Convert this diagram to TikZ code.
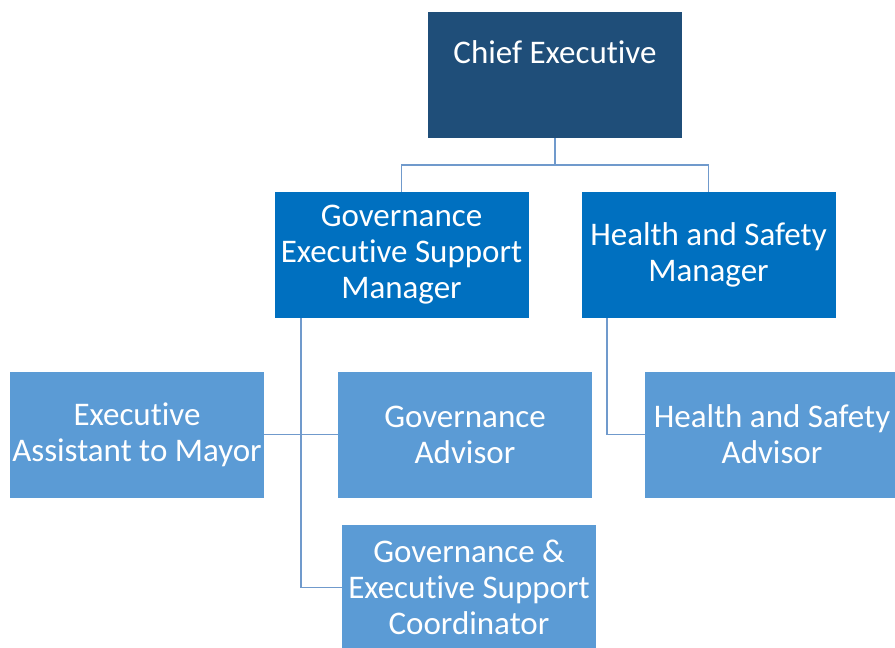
\documentclass[tikz,border=0pt]{standalone}
\usepackage{fontspec}
\setmainfont{Carlito}[Ligatures=NoCommon]
\usepackage{tikz}
\usetikzlibrary{positioning}

\definecolor{chiefblue}{RGB}{31,78,121}
\definecolor{mgrblue}{RGB}{0,112,192}
\definecolor{staffblue}{RGB}{91,155,213}
\definecolor{linkblue}{RGB}{112,154,204}

\begin{document}
\begin{tikzpicture}[
        x = 1pt, y = -1pt,
        box/.style = {
            rectangle,
            fill = #1,
            text = white,
            align = center,
            minimum width = 254pt,
            minimum height = 126pt,
            inner sep = 0pt,
            outer sep = 0pt,
            font = \fontsize{33}{36}\selectfont
        },
        box/.default = staffblue,
        link/.style = {
            draw = linkblue,
            line width = 1.2pt
        },
        node distance = {54pt}
        ]
%
        \clip (0,0) rectangle (895,648);
        \useasboundingbox (0,0) rectangle (895,648);
%
        % top line sits high in the box, so pad with an empty second line
        \node[box=chiefblue] (chief) at (555,75) {Chief Executive\\\strut};
%
        \node[box=mgrblue] (gesm) at (401.5,255) {Governance\\Executive Support\\Manager};
        \node[box=mgrblue, right=53pt of gesm] (hsm) {Health and Safety\\Manager};
%
        \node[box] (ea) at (137,434.5) {Executive\\Assistant to Mayor};
        \node[box, right=74pt of ea] (ga) {Governance\\Advisor};
        \node[box, right=53pt of ga] (hsa) {Health and Safety\\Advisor};
%
        \node[box, below=27pt of ga, xshift=4pt] (coord) {Governance \&\\Executive Support\\Coordinator};
%
        \coordinate (gtrunk) at (301,318);
        \coordinate (htrunk) at (607,318);
%
        \draw[link] (chief.south) -- ++(0,27) -| (gesm.north);
        \draw[link] (chief.south) -- ++(0,27) -| (hsm.north);
%
        \draw[link] (gtrunk) |- (coord.west);
        \draw[link] (ea.east) -- (ga.west);
%
        \draw[link] (htrunk) |- (hsa.west);
    \end{tikzpicture}
\end{document}
